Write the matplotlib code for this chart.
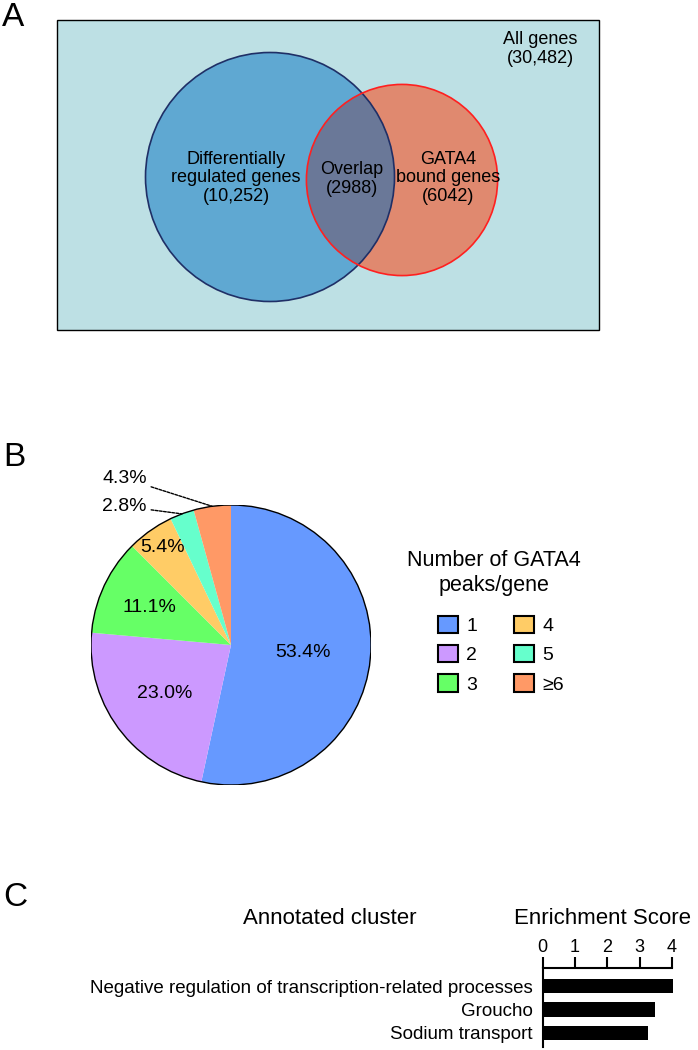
import matplotlib
matplotlib.use("Agg")
from matplotlib import pyplot as plt
from matplotlib.patches import Circle, Rectangle, Patch
import numpy as np

plt.rcParams['font.family'] = ['Liberation Sans', 'DejaVu Sans']

# panel A - venn counts
set_labels = ["Differentially\nregulated genes", "GATA4\nbound genes"]
set_counts = [10252, 6042]
overlap_count = 2988
all_genes = 30482

# panel B - GATA4 peaks per gene
peak_labels = ["1", "2", "3", "4", "5", "\u22656"]
peak_pcts = [53.4, 23.0, 11.1, 5.4, 2.8, 4.3]
pie_colors = ["#6699FF", "#CC99FF", "#66FF66", "#FFCC66", "#66FFCC", "#FF9966"]

# panel C - enrichment
clusters = ["Negative regulation of transcription-related processes", "Groucho", "Sodium transport"]
scores = [4.02, 3.47, 3.26]

W, H = 698, 1050
fig = plt.figure(figsize=(W / 100, H / 100), dpi=100)


def px_rect(x0, y0, x1, y1):
    return [x0 / W, 1 - y1 / H, (x1 - x0) / W, (y1 - y0) / H]


def ftext(x, y, s, **kw):
    return fig.text(x / W, 1 - y / H, s, **kw)


# ---- A: venn on a pixel-coordinate axes
ax = fig.add_axes([0, 0, 1, 1])
ax.set_xlim(0, W)
ax.set_ylim(H, 0)
ax.axis('off')

ax.add_patch(Rectangle((57, 20), 542, 310, fc="#BDE0E4", ec="black", lw=1))
k = 124.5 / np.sqrt(set_counts[0])
r_blue, r_red = k * np.sqrt(set_counts[0]), k * np.sqrt(set_counts[1])
c_blue, c_red = (270, 177), (402, 180)
blue = Circle(c_blue, r_blue, fc="#5FA8D2", ec="none")
red = Circle(c_red, r_red, fc="#E0896F", ec="none")
ax.add_patch(blue)
ax.add_patch(red)
ov = Circle(c_red, r_red, fc="#6A7898", ec="none")
ax.add_patch(ov)
ov.set_clip_path(blue)
ax.add_patch(Circle(c_blue, r_blue, fill=False, ec="#1F2F66", lw=1.2))
ax.add_patch(Circle(c_red, r_red, fill=False, ec="#FF2020", lw=1.2))

ftext(236, 178, "%s\n(%s)" % (set_labels[0], format(set_counts[0], ',')),
      ha='center', va='center', fontsize=13, linespacing=1.15)
ftext(448, 178, "%s\n(%d)" % (set_labels[1], set_counts[1]),
      ha='center', va='center', fontsize=13, linespacing=1.15)
ftext(352, 179, "Overlap\n(%d)" % overlap_count,
      ha='center', va='center', fontsize=13, linespacing=1.15)
ftext(540, 49, "All genes\n(%s)" % format(all_genes, ','),
      ha='center', va='center', fontsize=13, linespacing=1.15)

# ---- B: pie
axp = fig.add_axes(px_rect(91, 505, 371, 785))
wedges, _ = axp.pie(peak_pcts, colors=pie_colors, startangle=90, counterclock=False,
                    radius=1, wedgeprops=dict(linewidth=0))
axp.set_xlim(-1, 1)
axp.set_ylim(-1, 1)
axp.add_patch(Circle((0, 0), 1, fill=False, ec="black", lw=1))

inside_r = [0.52, 0.59, 0.64, 0.85]
for i, w in enumerate(wedges):
    mid = np.deg2rad((w.theta1 + w.theta2) / 2)
    lab = "%.1f%%" % peak_pcts[i]
    if i < 4:
        axp.text(inside_r[i] * np.cos(mid), inside_r[i] * np.sin(mid), lab,
                 ha='center', va='center', fontsize=14)
    else:
        ty = 0.99 if i == 4 else 1.19
        axp.annotate(lab, xy=(np.cos(mid), np.sin(mid)), xytext=(-0.6, ty),
                     ha='right', va='center', fontsize=14, annotation_clip=False,
                     arrowprops=dict(arrowstyle='-', linestyle=(0, (2, 1)), lw=1,
                                     color='black', shrinkA=1, shrinkB=0))

ftext(494, 573, "Number of GATA4\npeaks/gene", ha='center', va='center',
      fontsize=15.5, linespacing=1.2)
handles = [Patch(fc=c, ec='black', lw=1.5) for c in pie_colors]
fig.legend(handles, peak_labels, ncol=2, loc='upper left',
           bbox_to_anchor=(438 / W, 1 - 616 / H), frameon=False,
           fontsize=14, handlelength=1.05, handleheight=1.0,
           handletextpad=0.4, columnspacing=1.9, labelspacing=0.5, borderpad=0,
           borderaxespad=0)

# ---- C: enrichment bars
unit = 32.4
axb = fig.add_axes(px_rect(542.5, 968, 542.5 + 4.2 * unit, 1047))
y = np.arange(len(clusters))
axb.barh(y, scores, height=0.6, color='black')
axb.set_xlim(0, 4.2)
axb.set_ylim(2.6, -0.77)
axb.set_xticks(range(5))
axb.set_yticks(y)
axb.set_yticklabels(clusters, fontsize=13.5)
axb.xaxis.tick_top()
axb.tick_params(axis='x', length=8, width=1.5, labelsize=13, pad=0.5)
axb.tick_params(axis='y', length=0, pad=7)
for s in ['right', 'bottom']:
    axb.spines[s].set_visible(False)
for s in ['top', 'left']:
    axb.spines[s].set_linewidth(1.5)
axb.spines['top'].set_bounds(0, 4)

ftext(330, 918, "Annotated cluster", ha='center', va='center', fontsize=16)
ftext(603, 918, "Enrichment Score", ha='center', va='center', fontsize=16)

# panel letters
ftext(2, 17, "A", ha='left', va='center', fontsize=24)
ftext(3, 457, "B", ha='left', va='center', fontsize=24)
ftext(3, 897, "C", ha='left', va='center', fontsize=24)

fig.savefig("out.png", dpi=100)
